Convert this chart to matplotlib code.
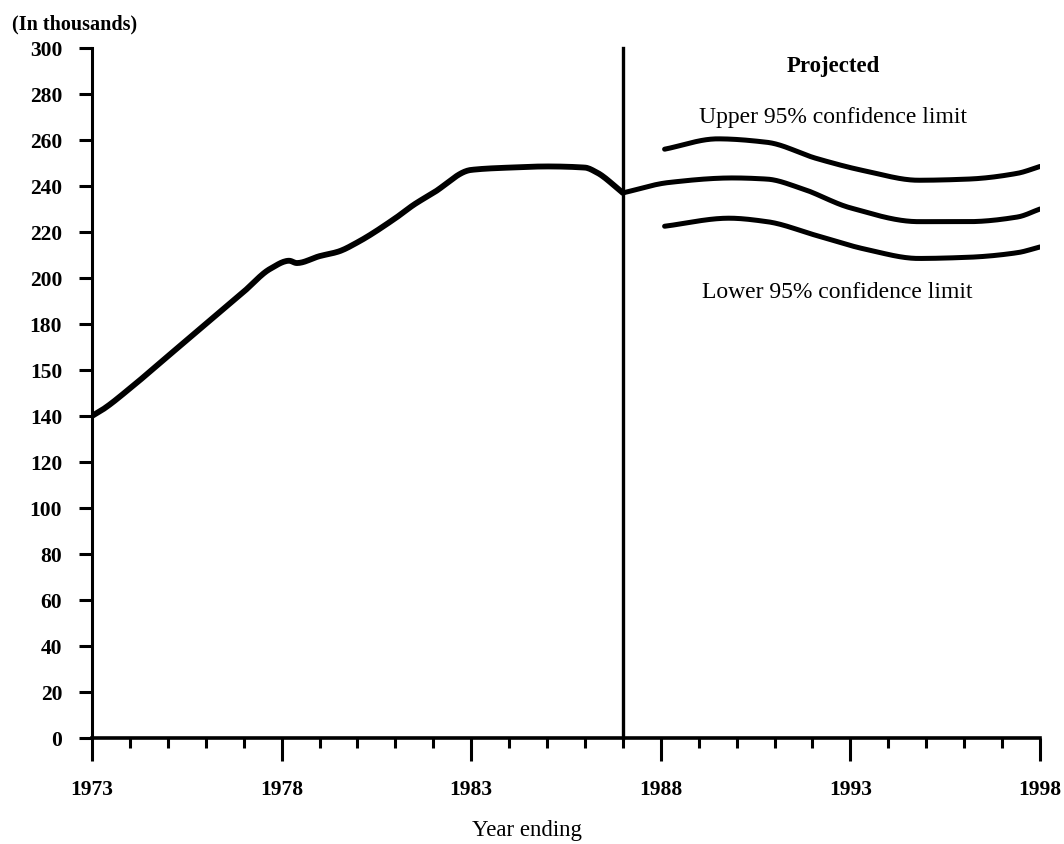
import matplotlib
matplotlib.use("Agg")
import matplotlib.pyplot as plt
from matplotlib.ticker import FixedLocator, NullFormatter
import numpy as np

# Historical series (thousands)
hist_years = [1973, 1973.3, 1974, 1975, 1976, 1977, 1977.7, 1978.2, 1978.4, 1979,
              1979.5, 1980, 1981, 1981.5, 1982, 1983, 1984, 1985, 1986, 1986.3, 1987]
hist_vals = [140, 143, 152, 166, 180, 194, 204, 207.5, 206.5, 209.5,
             211.5, 215.5, 226, 232, 237, 247, 248, 248.5, 248, 246, 237]

# Projection: central estimate and 95% confidence limits
proj_years = [1987, 1988.2, 1989.9, 1990.8, 1991.7, 1993.0, 1994.8, 1996.1, 1997.4, 1998]
proj_mid = [237, 241.5, 243.5, 243, 239, 230.5, 224.5, 224.5, 226.5, 230]

upper_years = [1988.1, 1989.5, 1990.8, 1992.1, 1993.4, 1994.8, 1996.1, 1997.4, 1998]
upper_vals = [256, 260.5, 259, 252, 246.5, 242.5, 243, 245.5, 248.5]

lower_years = [1988.1, 1989.8, 1990.8, 1992.1, 1993.4, 1994.8, 1996.1, 1997.4, 1998]
lower_vals = [222.5, 226, 224.5, 218.5, 212.5, 208.5, 209, 211, 213.5]

y_ticks = list(range(0, 301, 20))
y_tick_labels = ["0", "20", "40", "60", "80", "100", "120", "140", "150",
                 "180", "200", "220", "240", "260", "280", "300"]
x_major = [1973, 1978, 1983, 1988, 1993, 1998]
x_minor = [y for y in range(1973, 1999) if y not in x_major]
split_year = 1987

serif = ["Liberation Serif", "DejaVu Serif"]
plt.rcParams["font.family"] = serif

fig = plt.figure(figsize=(10.64, 8.45), dpi=100)
ax = fig.add_axes([92 / 1064, (845 - 739) / 845, (1040 - 92) / 1064, 690 / 845])
ax.set_xlim(1973, 1998)
ax.set_ylim(0, 300)

def smooth(xs, ys, n=400):
    xs = np.asarray(xs, float)
    ys = np.asarray(ys, float)
    t = np.linspace(xs[0], xs[-1], n)
    # monotone cubic (PCHIP-like) interpolation for a hand-drawn look
    h = np.diff(xs)
    d = np.diff(ys) / h
    m = np.zeros_like(ys)
    m[0], m[-1] = d[0], d[-1]
    for i in range(1, len(xs) - 1):
        if d[i - 1] * d[i] > 0:
            w1 = 2 * h[i] + h[i - 1]
            w2 = h[i] + 2 * h[i - 1]
            m[i] = (w1 + w2) / (w1 / d[i - 1] + w2 / d[i])
        else:
            m[i] = 0.0
    idx = np.clip(np.searchsorted(xs, t) - 1, 0, len(xs) - 2)
    x0, x1 = xs[idx], xs[idx + 1]
    hh = x1 - x0
    s = (t - x0) / hh
    h00 = 2 * s**3 - 3 * s**2 + 1
    h10 = s**3 - 2 * s**2 + s
    h01 = -2 * s**3 + 3 * s**2
    h11 = s**3 - s**2
    yv = h00 * ys[idx] + h10 * hh * m[idx] + h01 * ys[idx + 1] + h11 * hh * m[idx + 1]
    return t, yv

lw_main = 4.2
lw_proj = 3.6
for xs, ys, lw in [(hist_years, hist_vals, lw_main), (proj_years, proj_mid, lw_proj),
                   (upper_years, upper_vals, lw_proj), (lower_years, lower_vals, lw_proj)]:
    tx, ty = smooth(xs, ys)
    ax.plot(tx, ty, color="black", lw=lw, solid_capstyle="round", solid_joinstyle="round")

# Divider between actual and projected
ax.plot([split_year, split_year], [0, 300], color="black", lw=2.4, clip_on=False)

# Axes styling
for side in ["top", "right"]:
    ax.spines[side].set_visible(False)
ax.spines["left"].set_linewidth(2.2)
ax.spines["bottom"].set_linewidth(2.6)
ax.spines["left"].set_bounds(0, 300)

ax.yaxis.set_major_locator(FixedLocator(y_ticks))
ax.set_yticklabels(y_tick_labels)
ax.tick_params(axis="y", direction="out", length=9.5, width=2.2, pad=12,
               labelsize=15.5)
for lab in ax.get_yticklabels():
    lab.set_fontweight("bold")

ax.xaxis.set_major_locator(FixedLocator(x_major))
ax.xaxis.set_minor_locator(FixedLocator(x_minor))
ax.xaxis.set_minor_formatter(NullFormatter())
ax.set_xticklabels([str(y) for y in x_major])
ax.tick_params(axis="x", which="major", direction="out", length=16.5, width=2.2,
               pad=13, labelsize=15.5)
ax.tick_params(axis="x", which="minor", direction="out", length=7.5, width=2.2)
for lab in ax.get_xticklabels():
    lab.set_fontweight("bold")

fig.text(527 / 1064, 1 - 831 / 845, "Year ending", fontsize=16.5,
         ha="center", va="center")

fig.text(12 / 1064, 1 - 24 / 845, "(In thousands)", fontsize=14.5, fontweight="bold",
         ha="left", va="center")

ax.text(1992.55, 292.6, "Projected", fontsize=16.5, fontweight="bold",
        ha="center", va="center")
ax.text(1992.55, 270.0, "Upper 95% confidence limit", fontsize=17,
        ha="center", va="center")
ax.text(1992.65, 194.0, "Lower 95% confidence limit", fontsize=17,
        ha="center", va="center")

fig.savefig("out.png", dpi=100)
